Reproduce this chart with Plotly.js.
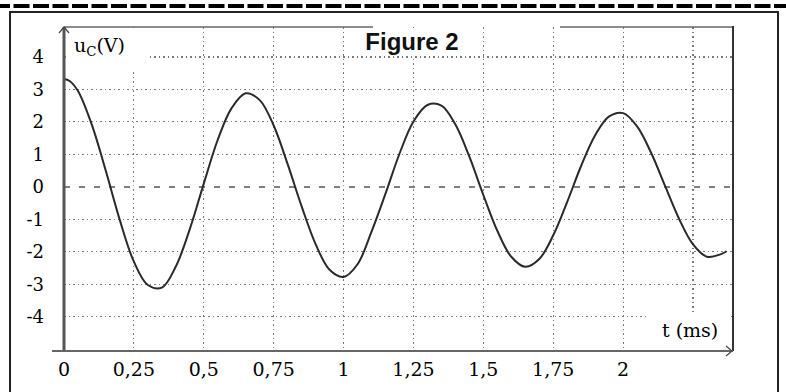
<!DOCTYPE html>
<html>
<head>
<meta charset="utf-8">
<script src="https://cdn.plot.ly/plotly-3.0.1.min.js"></script>
<style>
html,body{margin:0;padding:0;background:#fff;}
#chart{width:786px;height:392px;}
</style>
</head>
<body>
<div id="chart"></div>
<script>
// time (ms)
const tValues = [0,0.02,0.05,0.10,0.15,0.20,0.25,0.30,0.35,0.40,0.45,0.50,0.55,0.60,0.65,0.70,0.75,0.80,0.85,0.90,0.95,
  1.00,1.05,1.10,1.15,1.20,1.25,1.30,1.35,1.40,1.45,1.50,1.55,1.60,1.65,1.70,1.75,1.80,1.85,1.90,1.95,
  2.00,2.05,2.10,2.15,2.20,2.25,2.30,2.35,2.37];
// u_C (V)
const uValues = [3.32,3.26,2.95,1.90,0.48,-1.03,-2.30,-3.02,-3.10,-2.45,-1.30,0.10,1.45,2.43,2.88,2.67,1.89,0.70,-0.60,-1.76,-2.55,
  -2.77,-2.38,-1.38,-0.21,1.02,2.01,2.52,2.50,1.92,0.93,-0.25,-1.35,-2.15,-2.46,-2.22,-1.49,-0.46,0.65,1.59,2.17,
  2.27,1.86,1.05,0.03,-0.98,-1.77,-2.15,-2.07,-1.98];

const xTickVals = [0,0.25,0.5,0.75,1,1.25,1.5,1.75,2];
const xTickText = ['0','0,25','0,5','0,75','1','1,25','1,5','1,75','2'];
const yTickVals = [-4,-3,-2,-1,0,1,2,3,4];
const yTickText = ['-4','-3','-2','-1','0','1','2','3','4'];

// plot area in page pixels
const L = 64, R = 733, T = 27, B = 351;
const W = 786, H = 392;
const px = (x) => (x - L) / (R - L);
const py = (y) => (B - y) / (B - T);

function pline(x0, y0, x1, y1, color, width, dash) {
  return {type:'line', xref:'paper', yref:'paper', x0:px(x0), y0:py(y0), x1:px(x1), y1:py(y1),
    line:{color:color, width:width, dash:dash || 'solid'}, layer:'above'};
}
function ppath(pts, color, width) {
  const d = pts.map((p,i)=> (i? 'L ':'M ') + px(p[0]) + ',' + py(p[1])).join(' ');
  return {type:'path', xref:'paper', yref:'paper', path:d, line:{color:color, width:width}, layer:'above'};
}
function whiteBox(x0, y0, x1, y1, layer) {
  return {type:'rect', xref:'paper', yref:'paper', x0:px(x0), x1:px(x1), y0:py(y1), y1:py(y0),
    fillcolor:'#fff', line:{width:0}, layer:layer || 'between'};
}

const serif = 'DejaVu Serif, Liberation Serif, serif';
const gridDash = '1.5px,3px';

const shapes = [
  // white boxes behind the labels (hide grid there)
  whiteBox(66, 28, 147, 70, 'above'),
  whiteBox(356, 28, 470, 56, 'above'),
  whiteBox(648, 312, 731, 349, 'above'),
  // hide the dotted grid under the zero line
  {type:'line', xref:'x', yref:'y', x0:0, x1:2.393, y0:0, y1:0,
    line:{color:'#fff', width:2.5}, layer:'between'},
  // dashed zero line
  {type:'line', xref:'x', yref:'y', x0:0, x1:2.393, y0:0, y1:0,
    line:{color:'#555', width:1.5, dash:'6px,9px'}, layer:'between'},
  // top dashed bar
  pline(-6, 6, 792, 6, '#000', 4, '16px,3.5px'),
  // outer frame
  {type:'rect', xref:'paper', yref:'paper', x0:px(10), x1:px(778), y0:py(420), y1:py(12),
    line:{color:'#222', width:2}, fillcolor:'rgba(0,0,0,0)', layer:'above'},
  // plot top border (partial)
  pline(64, 27, 373, 27, '#666', 1.5),
  pline(560, 27, 733, 27, '#666', 1.5),
  // right border
  pline(733, 26, 733, 351, '#333', 2),
  // y axis
  pline(64, 27, 64, 351, '#555', 3),
  // x axis
  pline(52, 351, 733, 351, '#666', 2),
  // arrow heads
  ppath([[59,33],[64,27],[69,33]], '#444', 1.2),
  ppath([[726,346],[732,351],[726,356]], '#444', 1.2)
];

const trace = {
  x: tValues, y: uValues, type:'scatter', mode:'lines',
  line:{color:'#2a2a2a', width:2, shape:'spline', smoothing:1},
  hoverinfo:'skip', showlegend:false
};

const layout = {
  width: W, height: H,
  margin: {l:L, r:W-R, t:T, b:H-B, pad:0},
  paper_bgcolor:'#fff', plot_bgcolor:'#fff',
  separators: ',.',
  showlegend:false,
  title: {
    text:'<b>Figure 2</b>', xref:'container', yref:'container',
    x: 412/W, xanchor:'center', y: 1-42/H, yanchor:'middle',
    font:{family:'Liberation Sans, Arial, sans-serif', size:24, color:'#111'}
  },
  xaxis: {
    range:[0, 2.393], fixedrange:true,
    tickmode:'array', tickvals:xTickVals, ticktext:xTickText,
    showgrid:true, gridcolor:'#7a7a7a', gridwidth:1.2, griddash:gridDash,
    minor:{tick0:0, dtick:0.25, showgrid:true, gridcolor:'#7a7a7a', gridwidth:1.2, griddash:gridDash, ticks:''},
    zeroline:false, showline:false, ticks:'',
    ticklabelstandoff: 5,
    tickfont:{family:serif, size:19, color:'#000'}
  },
  yaxis: {
    range:[-5.05, 4.92], fixedrange:true,
    tickmode:'array', tickvals:yTickVals, ticktext:yTickText,
    showgrid:true, gridcolor:'#7a7a7a', gridwidth:1.2, griddash:gridDash,
    zeroline:false, showline:false, ticks:'',
    ticklabelstandoff: 19,
    tickfont:{family:serif, size:18, color:'#000'}
  },
  shapes: shapes,
  annotations: [
    {text:'u<sub>C</sub>(V)', xref:'paper', yref:'paper', x:px(72), y:py(46),
      xanchor:'left', yanchor:'middle', showarrow:false,
      font:{family:serif, size:19, color:'#000'}},
    {text:'t (ms)', xref:'paper', yref:'paper', x:px(660), y:py(330),
      xanchor:'left', yanchor:'middle', showarrow:false,
      font:{family:serif, size:19, color:'#000'}}
  ]
};

Plotly.newPlot('chart', [trace], layout, {staticPlot:true, displayModeBar:false});
</script>
</body>
</html>
